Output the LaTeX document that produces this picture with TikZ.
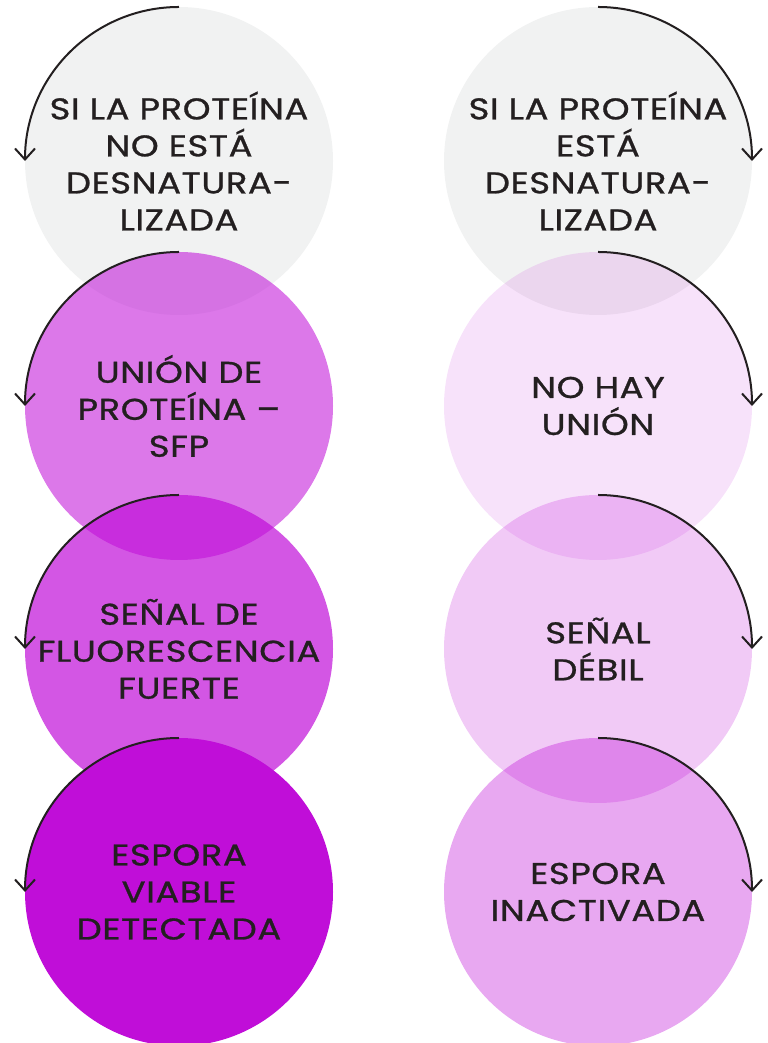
\documentclass[tikz,border=0pt]{standalone}
\usepackage{fontspec}
\setmainfont{Poppins}[FakeStretch=1.18, FakeBold=0.9, LetterSpace=2]
\usetikzlibrary{arrows.meta}
\definecolor{greybg}{HTML}{F1F2F2}
\definecolor{spore}{HTML}{C00ED8}
\definecolor{ink}{HTML}{231F20}

\begin{document}
\begin{tikzpicture}[% styles used in image code
         x = 0.5pt, y = 0.5pt,
         > = {Straight Barb[length=5.5pt, width=10pt]},
stage/.style = {circle, minimum size=154pt,
                inner sep=0pt, outer sep=0pt,
                text=ink, text opacity=1, align=center,
                font=\fontsize{15}{18.5}\selectfont},
 turn/.style = {draw=ink, line width=1pt, ->}
                    ]
    \useasboundingbox (0,0) rectangle (767,1043);

    % left column: protein not denatured
    \node[stage, fill=greybg] (ln) at (179,882) {SI LA PROTEÍNA\\NO ESTÁ\\DESNATURA-\\LIZADA};
    \draw[turn] (ln.north) arc[start angle=90, end angle=180, radius=154];
    \node[stage, fill=spore, fill opacity=0.56] (lbind) at (179,637) {UNIÓN DE\\PROTEÍNA –\\SFP};
    \draw[turn] (lbind.north) arc[start angle=90, end angle=180, radius=154];
    \node[stage, fill=spore, fill opacity=0.7] (lsig) at (179,394) {SEÑAL DE\\FLUORESCENCIA\\FUERTE};
    \draw[turn] (lsig.north) arc[start angle=90, end angle=180, radius=154];
    \node[stage, fill=spore] (lspore) at (179,151) {ESPORA\\VIABLE\\DETECTADA};
    \draw[turn] (lspore.north) arc[start angle=90, end angle=180, radius=154];

    % right column: protein denatured
    \node[stage, fill=greybg] (rd) at (598,882) {SI LA PROTEÍNA\\ESTÁ\\DESNATURA-\\LIZADA};
    \draw[turn] (rd.north) arc[start angle=90, end angle=0, radius=154];
    \node[stage, fill=spore, fill opacity=0.12] (rbind) at (598,637) {NO HAY\\UNIÓN};
    \draw[turn] (rbind.north) arc[start angle=90, end angle=0, radius=154];
    \node[stage, fill=spore, fill opacity=0.22] (rsig) at (598,394) {SEÑAL\\DÉBIL};
    \draw[turn] (rsig.north) arc[start angle=90, end angle=0, radius=154];
    \node[stage, fill=spore, fill opacity=0.36] (rspore) at (598,151) {ESPORA\\INACTIVADA};
    \draw[turn] (rspore.north) arc[start angle=90, end angle=0, radius=154];
\end{tikzpicture}
\end{document}
